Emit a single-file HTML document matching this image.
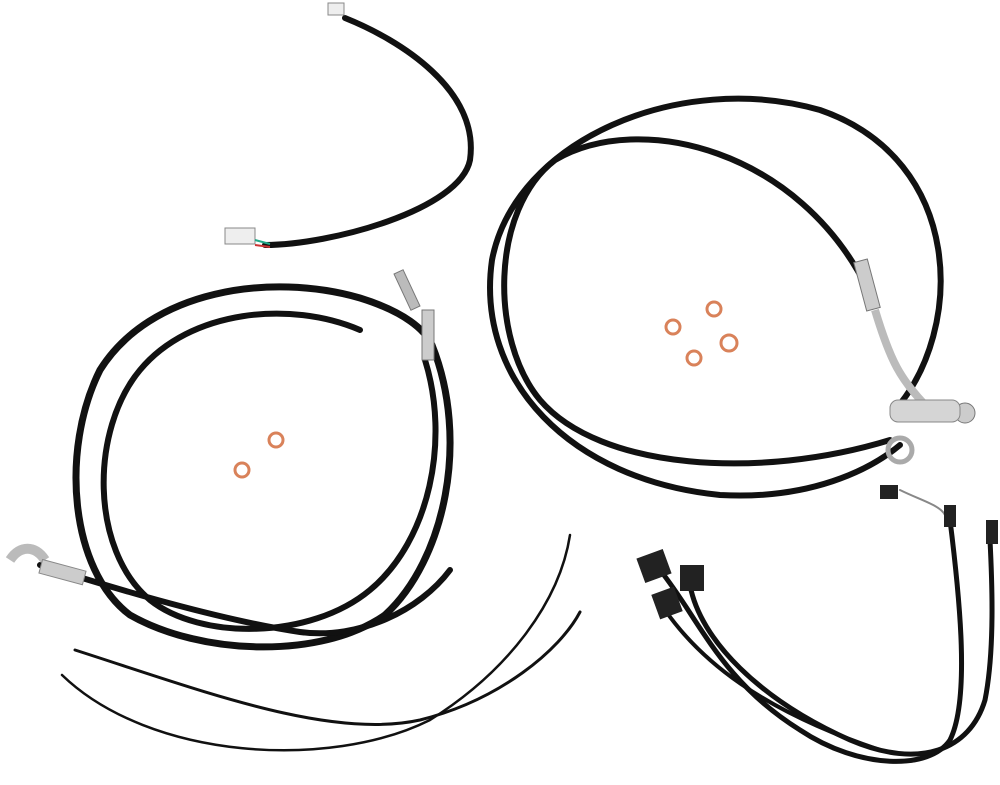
<!DOCTYPE html>
<html><head><style>html,body{margin:0;padding:0;background:#fff;}svg{display:block}</style></head>
<body>
<svg width="1000" height="785" viewBox="0 0 1000 785" xmlns="http://www.w3.org/2000/svg">
<g fill="none" stroke="#111" stroke-linecap="round">
<path d="M345 18 C400 40 480 90 470 160 C460 210 330 245 265 245" stroke-width="6"/>
<!-- right loops -->
<path d="M895 410 C965 330 965 160 820 110 C680 70 515 140 492 260 C475 380 570 480 720 495 C810 500 870 470 900 445" stroke-width="6"/>
<path d="M868 290 C800 150 640 110 555 160 C490 210 490 340 540 400 C600 470 760 480 890 440" stroke-width="6"/>
<!-- left loops -->
<path d="M432 345 C470 440 445 560 385 615 C320 660 200 655 130 615 C70 570 60 450 100 370 C150 290 270 272 360 298 C405 312 425 330 432 345" stroke-width="7"/>
<path d="M425 360 C450 440 430 540 370 590 C310 640 200 640 150 600 C90 550 90 430 140 370 C190 310 290 300 360 330" stroke-width="6"/>
<path d="M40 565 C120 590 220 620 300 632 C360 640 420 610 450 570" stroke-width="6"/>
<!-- zip ties -->
<path d="M75 650 C200 690 330 740 420 720 C500 700 560 650 580 612" stroke-width="3"/>
<path d="M62 675 C150 760 330 770 430 720 C510 670 560 600 570 535" stroke-width="2.5"/>
<!-- harness -->
<path d="M660 570 C700 620 720 680 800 730 C860 770 930 770 950 740 C970 700 960 600 950 520" stroke-width="5"/>
<path d="M690 585 C700 640 760 700 850 740 C920 770 970 750 985 700 C995 650 992 580 990 540" stroke-width="5"/>
<path d="M665 610 C700 660 760 710 880 750" stroke-width="4"/>
<path d="M900 490 C920 500 940 505 945 515" stroke-width="2" stroke="#888"/>
</g>
<rect x="328" y="3" width="16" height="12" fill="#eee" stroke="#888"/>
<rect x="225" y="228" width="30" height="16" fill="#eee" stroke="#888"/>
<path d="M255 240 L270 244" stroke="#2a8" stroke-width="2"/><path d="M255 245 L270 247" stroke="#c33" stroke-width="2"/>
<rect x="422" y="310" width="12" height="50" fill="#ccc" stroke="#777"/>
<rect x="402" y="270" width="10" height="40" fill="#bbb" stroke="#777" transform="rotate(-25 407 290)"/>
<rect x="860" y="260" width="14" height="50" fill="#ccc" stroke="#777" transform="rotate(-15 867 285)"/>
<path d="M875 310 C890 360 900 380 930 410" stroke="#bbb" stroke-width="8" fill="none"/>
<circle cx="965" cy="413" r="10" fill="#ccc" stroke="#777"/>
<rect x="890" y="400" width="70" height="22" rx="8" fill="#d5d5d5" stroke="#888"/>
<circle cx="900" cy="450" r="12" fill="none" stroke="#aaa" stroke-width="5"/>
<path d="M10 560 C20 545 35 545 45 560" stroke="#bbb" stroke-width="10" fill="none"/>
<rect x="40" y="565" width="45" height="14" fill="#ccc" stroke="#888" transform="rotate(15 62 572)"/>
<g fill="none" stroke="#d9825a" stroke-width="3">
<circle cx="276" cy="440" r="7"/><circle cx="242" cy="470" r="7"/>
<circle cx="714" cy="309" r="7"/><circle cx="673" cy="327" r="7"/>
<circle cx="729" cy="343" r="8"/><circle cx="694" cy="358" r="7"/>
</g>
<g fill="#222">
<rect x="640" y="553" width="28" height="26" transform="rotate(-20 654 566)"/>
<rect x="680" y="565" width="24" height="26"/>
<rect x="655" y="590" width="24" height="26" transform="rotate(-20 667 603)"/>
<rect x="880" y="485" width="18" height="14"/>
<rect x="944" y="505" width="12" height="22"/>
<rect x="986" y="520" width="12" height="24"/>
</g>
</svg>
</body></html>
